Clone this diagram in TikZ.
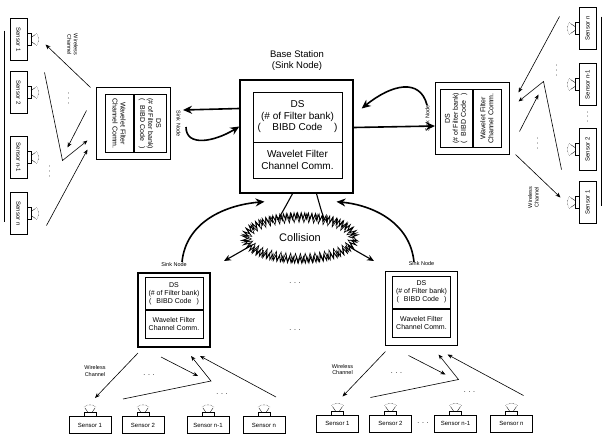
\documentclass[tikz,border=0pt]{standalone}
\usepackage{fontspec}
\setmainfont{Liberation Sans}
\usetikzlibrary{arrows.meta,decorations.pathmorphing,shapes.geometric,calc}

\tikzset{
  every node/.append style={transform shape},
  tip/.style={-{Stealth[length=5pt,width=4pt]}},
  bigtip/.style={-{Stealth[length=9pt,width=8pt]}, line width=1.6pt},
  midtip/.style={-{Stealth[length=7pt,width=6pt]}, line width=1.1pt},
  link/.style={line width=0.6pt},
  headbox/.style={draw, line width=1.1pt, minimum width=72pt, minimum height=74pt, inner sep=0pt},
  dsbox/.style={draw, line width=0.8pt, minimum width=58pt, minimum height=32pt, inner sep=1pt,
    align=center, font=\fontsize{7}{8}\selectfont},
  wfbox/.style={dsbox, minimum height=28pt},
  sensorbox/.style={draw, line width=0.6pt, minimum width=42pt, minimum height=17pt, inner sep=1pt,
    font=\fontsize{6}{7}\selectfont},
  smalllabel/.style={font=\fontsize{5.5}{6.5}\selectfont, align=center, inner sep=0.5pt},
  dotsnode/.style={font=\fontsize{7}{8}\selectfont, inner sep=0pt},
  % one cluster: cluster head on top, its sensors below (local frame)
  pics/cluster/.style={code={
    \node[headbox] (-head) at (0,0) {};
    \node[dsbox, anchor=south] (-ds) at (0,0)
      {DS\\(\# of Filter bank)\\\makebox[50pt]{(\hfill BIBD Code\hfill)}};
    \node[wfbox, anchor=north] (-wf) at (0,0) {Wavelet Filter\\Channel Comm.};
    \node[smalllabel] (-lbl) at (0,45) {Sink Node};
    \foreach \sx/\sn/\st in {-84/s1/Sensor 1, -31/s2/Sensor 2, 34/s3/Sensor n-1, 90/s4/Sensor n}{
      \node[sensorbox] (-\sn) at (\sx,-115) {\st};
      \draw[line width=0.5pt] (\sx-6,-106.5) -- (\sx-6,-102.5) -- (\sx+6,-102.5) -- (\sx+6,-106.5);
      \draw[line width=0.4pt] (\sx-2,-102.5) -- (\sx-5,-98);
      \draw[line width=0.4pt] (\sx+2,-102.5) -- (\sx+5,-98);
      \draw[line width=0.4pt, densely dotted] (\sx-6,-97) .. controls (\sx-2,-94) and (\sx+2,-94) .. (\sx+6,-97);
    }
    \coordinate (-a0) at (-36,-43);  \coordinate (-a1) at (-79,-88);
    \coordinate (-b0) at (-13,-47);  \coordinate (-b1) at (24,-66);
    \coordinate (-c0) at (-51,-89);  \coordinate (-c1) at (37,-71);  \coordinate (-c2) at (17,-46);
    \coordinate (-d0) at (102,-87);  \coordinate (-d1) at (26,-46);
    \draw[link,tip] (-a0) -- (-a1);
    \draw[link,tip] (-b0) -- (-b1);
    \draw[link,tip] (-c0) -- (-c1) -- (-c2);
    \draw[link,tip] (-d0) -- (-d1);
    \node[smalllabel] (-wc) at (-79,-61) {Wireless\\Channel};
    \node[dotsnode] (-dots1) at (-25,-65) {. . .};
    \node[dotsnode] (-dots2) at (48,-84) {. . .};
  }}
}

\begin{document}
\begin{tikzpicture}[x=1pt,y=1pt]
\useasboundingbox (0,0) rectangle (603,-434);

% base station
\node[draw, line width=1.4pt, minimum width=113pt, minimum height=113pt] (bs) at (296.5,-136.5) {};
\node[draw, line width=0.9pt, minimum width=89pt, minimum height=50pt, inner sep=1pt, align=center,
  font=\fontsize{10}{11.5}\selectfont] (bsds) at (297.5,-117)
  {DS\\(\# of Filter bank)\\\makebox[80pt]{(\hfill BIBD Code\hfill)}};
\node[draw, line width=0.9pt, minimum width=89pt, minimum height=36pt, inner sep=1pt, align=center,
  font=\fontsize{10}{12}\selectfont] (bswf) at (297.5,-160) {Wavelet Filter\\Channel Comm.};
\node[align=center, font=\fontsize{9.5}{11}\selectfont] (bstitle) at (297,-61) {Base Station\\(Sink Node)};

% four clusters around the base station
\pic[rotate=-90] (L) at (133.5,-123.5) {cluster};
\pic[rotate=90] (R) at (472.5,-118.5) {cluster};
\pic (BL) at (174,-310) {cluster};
\pic (BR) at (421.5,-308.5) {cluster};

\node[dotsnode, rotate=90] (rgap) at ($(R-s2)!0.5!(R-s3)$) {. . .};
\node[dotsnode] (brgap) at ($(BR-s2)!0.5!(BR-s3)$) {. . .};

% edges behind the outer sensor columns
\draw[line width=0.9pt] ([xshift=-5pt,yshift=9pt]L-s1.south) -- ([xshift=-5pt,yshift=-8pt]L-s4.south);
\draw[line width=0.9pt] ([xshift=5pt,yshift=12pt]R-s4.south) -- ([xshift=5pt,yshift=-3pt]R-s1.south);

% links between the base station and the side cluster heads
\coordinate (lt) at (183,-110);
\coordinate (ls) at (186,-127);
\coordinate (rs) at (427,-105);
\coordinate (rt) at (435,-126);
\draw[bigtip] ([yshift=28pt]bs.west) -- (lt);
\draw[bigtip] (ls) .. controls (186,-147) and (214,-142) .. ([yshift=10pt]bs.west);
\draw[bigtip] (rs) .. controls (420,-78) and (392,-84) .. ([xshift=8pt,yshift=28pt]bs.east);
\draw[bigtip] ([yshift=9pt]bs.east) -- (rt);

% links between the base station and the lower cluster heads
\coordinate (blu) at (182,-262);
\coordinate (bru) at (414,-262);
\coordinate (bld) at (224,-261);
\coordinate (brd) at (374,-261);
\draw[midtip] ([xshift=-4pt]bs.south) .. controls (270,-235) .. (bld);
\draw[midtip] ([xshift=20pt]bs.south) .. controls (328,-235) .. (brd);
\draw[bigtip] (blu) .. controls (186,-222) and (225,-205) .. ([xshift=-32pt,yshift=-8pt]bs.south);
\draw[bigtip] (bru) .. controls (410,-222) and (372,-205) .. ([xshift=40pt,yshift=-8pt]bs.south);

% collision zone
\node[ellipse, fill=white, minimum width=104pt, minimum height=40pt] (col) at (300,-238) {};
\draw[decorate, decoration={zigzag, segment length=3.5pt, amplitude=3pt}, line width=0.9pt]
  (col.center) ellipse (55 and 22);
\draw[decorate, decoration={zigzag, segment length=5pt, amplitude=4.5pt}, line width=0.6pt]
  (col.center) ellipse (53 and 20);
\node[font=\fontsize{11}{12}\selectfont] (coltext) at (col.center) {Collision};

\node[dotsnode] (gap1) at (295,-283) {. . .};
\node[dotsnode] (gap2) at (295,-330) {. . .};
\end{tikzpicture}
\end{document}
